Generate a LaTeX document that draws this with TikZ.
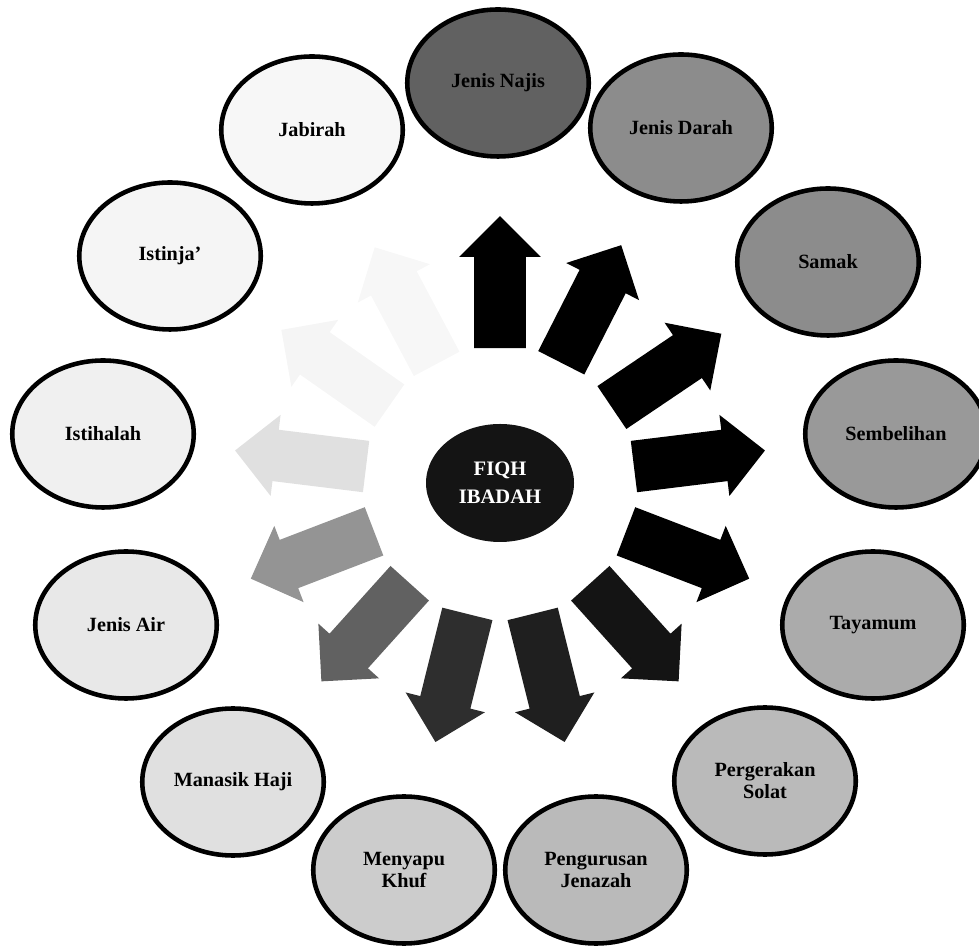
\documentclass[tikz,border=0pt]{standalone}
\usepackage{fontspec}
\setmainfont{Liberation Serif}
\usetikzlibrary{shapes.geometric,shapes.arrows,calc}

\tikzset{
  topic/.style={ellipse, draw, line width=2.6pt, minimum width=36.3mm, minimum height=29.4mm,
    inner sep=0pt, align=center, font=\bfseries\fontsize{11.5}{12.5}\selectfont},
  hub/.style={ellipse, fill=black!92, text=white, minimum width=29.6mm, minimum height=23.6mm,
    inner sep=0pt, align=center, font=\bfseries\fontsize{11.7}{16}\selectfont},
  blockarrow/.style={single arrow, draw=none, minimum height=26.4mm, minimum width=16.2mm,
    single arrow head extend=3mm, inner xsep=0pt, inner ysep=5.1mm}
}

\begin{document}
\begin{tikzpicture}[x=0.2mm,y=0.2mm]
\useasboundingbox (0,0) rectangle (979,947);

\node[hub] (fiqh) at (500,464) {FIQH\\IBADAH};

% arrows out of the centre
\foreach \ang/\tone [count=\i] in {90/100,63/100,34/100,7/100,-21/100,-48/92,-76/88,-104/82,-132/62,-159/42,173/12,145/4,118/3}
  \node[blockarrow, fill=black!\tone, rotate=\ang] (arrow\i) at ($(fiqh)+(\ang:188)$) {};

% topics
\node[topic, fill=black!62] (najis) at (498,864) {Jenis Najis};
\node[topic, fill=black!45] (darah) at (681,819) {Jenis Darah};
\node[topic, fill=black!45] (samak) at (828,685) {Samak};
\node[topic, fill=black!40] (sembelihan) at (896,513) {Sembelihan};
\node[topic, fill=black!33] (tayamum) at (873,322) {Tayamum};
\node[topic, fill=black!27] (solat) at (765,166) {Pergerakan\\Solat};
\node[topic, fill=black!27] (jenazah) at (596,77) {Pengurusan\\Jenazah};
\node[topic, fill=black!20] (khuf) at (404,77) {Menyapu\\Khuf};
\node[topic, fill=black!12] (haji) at (233,165) {Manasik Haji};
\node[topic, fill=black!9] (air) at (126,322) {Jenis Air};
\node[topic, fill=black!6] (istihalah) at (103,513) {Istihalah};
\node[topic, fill=black!4] (istinja) at (170,691) {Istinja'};
\node[topic, fill=black!3] (jabirah) at (312,817) {Jabirah};
\end{tikzpicture}
\end{document}
